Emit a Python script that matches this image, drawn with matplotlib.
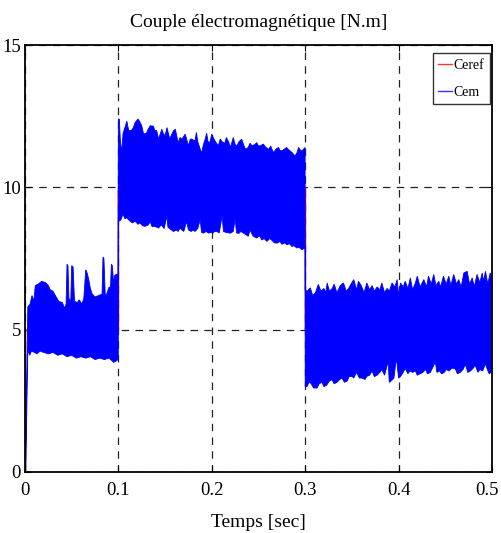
import numpy as np
import matplotlib
matplotlib.use("Agg")
import matplotlib.pyplot as plt
from matplotlib.lines import Line2D
from matplotlib.transforms import ScaledTranslation

# Reference torque (step profile)
ceref_t = [0.0, 0.0, 0.1, 0.1, 0.3, 0.3, 0.5]
ceref = [0.0, 5.0, 5.0, 10.0, 10.0, 5.0, 5.0]

# Electromagnetic torque ripple: upper envelope (time, value)
cem_upper = [
    (0.0003, 0.0), (0.0030, 5.8), (0.0055, 5.9), (0.0075, 6.2), (0.0095, 6.0),
    (0.011, 6.55), (0.014, 6.6), (0.018, 6.7), (0.022, 6.65), (0.025, 6.55),
    (0.027, 6.4), (0.030, 6.35), (0.0325, 6.2), (0.036, 6.0), (0.040, 5.95),
    (0.0425, 5.75), (0.044, 5.9), (0.045, 7.3), (0.046, 7.25), (0.047, 6.1),
    (0.049, 6.0), (0.050, 7.25), (0.0515, 7.2), (0.053, 6.0), (0.056, 5.95),
    (0.058, 6.05), (0.061, 5.9), (0.063, 6.1), (0.065, 7.1), (0.066, 7.05),
    (0.068, 6.8), (0.070, 6.45), (0.072, 6.25), (0.075, 6.15), (0.079, 6.2),
    (0.0825, 6.25), (0.0835, 7.55), (0.0845, 7.5), (0.086, 6.15), (0.088, 6.3),
    (0.090, 6.5), (0.0915, 6.45), (0.0925, 7.3), (0.0935, 7.25), (0.095, 6.6),
    (0.096, 6.9), (0.098, 6.95), (0.0995, 6.9),
    (0.100, 12.4), (0.101, 12.4), (0.102, 11.7), (0.1035, 11.2), (0.105, 11.9),
    (0.107, 12.1), (0.109, 12.33), (0.111, 12.0), (0.114, 12.0), (0.116, 12.1),
    (0.118, 12.28), (0.121, 12.4), (0.123, 12.3), (0.125, 12.16), (0.127, 11.87),
    (0.130, 11.9), (0.132, 12.05), (0.134, 12.16), (0.1375, 12.15), (0.139, 12.0),
    (0.141, 11.99), (0.143, 11.7), (0.1465, 12.04), (0.148, 11.9), (0.150, 11.81),
    (0.152, 12.1), (0.155, 11.7), (0.157, 11.85), (0.159, 11.99), (0.161, 12.04),
    (0.1625, 11.8), (0.164, 11.57), (0.166, 11.75), (0.168, 11.69), (0.1715, 11.87),
    (0.173, 11.7), (0.175, 11.46), (0.177, 11.7), (0.1787, 11.69), (0.182, 11.63),
    (0.1835, 11.93), (0.185, 11.6), (0.1876, 11.34), (0.189, 11.2), (0.191, 11.5),
    (0.193, 11.7), (0.1945, 11.9), (0.196, 11.6), (0.198, 11.58), (0.200, 11.87),
    (0.2015, 11.75), (0.204, 11.6), (0.207, 11.46), (0.209, 11.7), (0.211, 11.6),
    (0.214, 11.55), (0.2155, 11.75), (0.218, 11.6), (0.220, 11.4), (0.223, 11.75),
    (0.225, 11.5), (0.227, 11.46), (0.229, 11.6), (0.232, 11.69), (0.234, 11.5),
    (0.236, 11.34), (0.239, 11.4), (0.241, 11.55), (0.243, 11.46), (0.246, 11.5),
    (0.248, 11.57), (0.250, 11.45), (0.252, 11.46), (0.255, 11.52), (0.258, 11.4),
    (0.261, 11.34), (0.263, 11.45), (0.266, 11.22), (0.269, 11.35), (0.2715, 11.4),
    (0.273, 11.3), (0.275, 11.28), (0.278, 11.35), (0.280, 11.4), (0.283, 11.3),
    (0.286, 11.22), (0.289, 11.1), (0.291, 11.2), (0.293, 11.4), (0.295, 11.3),
    (0.2966, 11.28), (0.2985, 11.35), (0.2999, 11.4),
    (0.300, 6.4), (0.302, 6.35), (0.3055, 6.47), (0.308, 6.2), (0.311, 6.3),
    (0.314, 6.59), (0.317, 6.35), (0.320, 6.45), (0.322, 6.3), (0.3235, 6.64),
    (0.326, 6.35), (0.329, 6.45), (0.331, 6.6), (0.334, 6.3), (0.3376, 6.55),
    (0.341, 6.64), (0.344, 6.35), (0.3465, 6.45), (0.349, 6.6), (0.352, 6.76),
    (0.355, 6.4), (0.357, 6.7), (0.360, 6.55), (0.363, 6.3), (0.366, 6.64),
    (0.369, 6.4), (0.3716, 6.55), (0.374, 6.35), (0.377, 6.5), (0.380, 6.4),
    (0.382, 6.64), (0.385, 6.3), (0.3877, 6.45), (0.390, 6.35), (0.393, 6.64),
    (0.396, 6.5), (0.3984, 6.76), (0.400, 6.2), (0.402, 6.64), (0.405, 6.5),
    (0.407, 6.7), (0.410, 6.45), (0.4126, 6.82), (0.415, 6.4), (0.418, 6.64),
    (0.420, 6.88), (0.423, 6.5), (0.427, 6.76), (0.430, 6.5), (0.432, 6.88),
    (0.435, 6.6), (0.4376, 6.94), (0.440, 6.55), (0.443, 6.7), (0.445, 6.5),
    (0.448, 6.88), (0.451, 6.6), (0.4537, 6.88), (0.456, 6.55), (0.459, 6.94),
    (0.462, 6.6), (0.4644, 6.76), (0.467, 6.5), (0.4698, 6.99), (0.4734, 7.05),
    (0.476, 6.6), (0.4788, 6.82), (0.481, 6.5), (0.484, 6.94), (0.487, 6.65),
    (0.4895, 6.99), (0.491, 6.7), (0.493, 7.05), (0.4955, 6.6), (0.498, 6.99),
    (0.500, 6.9),
]

# Electromagnetic torque ripple: lower envelope (time, value)
cem_lower = [
    (0.0008, 0.0), (0.0030, 4.3), (0.005, 4.1), (0.007, 4.25), (0.010, 4.2),
    (0.013, 4.15), (0.016, 4.25), (0.020, 4.2), (0.025, 4.15), (0.030, 4.2),
    (0.035, 4.1), (0.040, 4.15), (0.045, 4.05), (0.050, 4.1), (0.055, 4.0),
    (0.060, 4.05), (0.065, 4.0), (0.070, 4.05), (0.075, 3.95), (0.080, 4.0),
    (0.085, 3.95), (0.090, 4.0), (0.095, 3.85), (0.0999, 3.95),
    (0.100, 8.8), (0.1025, 8.85), (0.105, 9.05), (0.107, 8.9), (0.109, 8.93),
    (0.1125, 8.81), (0.115, 8.75), (0.118, 8.81), (0.121, 8.7), (0.123, 8.75),
    (0.126, 8.65), (0.1286, 8.63), (0.132, 8.68), (0.134, 8.8), (0.136, 8.62),
    (0.139, 8.63), (0.141, 8.6), (0.143, 8.57), (0.146, 8.68), (0.149, 8.55),
    (0.152, 9.0), (0.153, 8.6), (0.156, 8.52), (0.159, 8.45), (0.162, 8.5),
    (0.164, 8.45), (0.166, 8.57), (0.168, 8.5), (0.170, 8.45), (0.173, 8.8),
    (0.175, 8.5), (0.178, 8.45), (0.180, 8.5), (0.182, 8.45), (0.185, 8.55),
    (0.1876, 8.87), (0.189, 8.42), (0.191, 8.39), (0.194, 8.45), (0.1965, 8.39),
    (0.199, 8.42), (0.201, 8.39), (0.203, 8.45), (0.2055, 8.45), (0.208, 8.4),
    (0.211, 9.0), (0.2125, 8.45), (0.215, 8.42), (0.218, 8.4), (0.220, 8.39),
    (0.223, 8.45), (0.225, 8.9), (0.2265, 8.4), (0.229, 8.38), (0.231, 8.45),
    (0.234, 8.39), (0.236, 8.35), (0.239, 8.28), (0.241, 8.5), (0.244, 8.3),
    (0.246, 8.25), (0.248, 8.22), (0.251, 8.3), (0.2537, 8.15), (0.256, 8.2),
    (0.259, 8.1), (0.262, 8.2), (0.264, 8.15), (0.267, 8.05), (0.270, 8.04),
    (0.273, 8.1), (0.275, 8.0), (0.278, 8.05), (0.2805, 7.98), (0.283, 8.02),
    (0.286, 7.92), (0.288, 7.95), (0.291, 7.87), (0.293, 7.9), (0.2966, 7.81),
    (0.2985, 7.85), (0.2999, 7.9),
    (0.300, 3.0), (0.302, 3.0), (0.304, 3.15), (0.306, 3.12), (0.309, 2.95),
    (0.3127, 2.95), (0.315, 3.1), (0.318, 3.15), (0.320, 3.0), (0.323, 3.05),
    (0.326, 3.2), (0.3287, 3.24), (0.331, 3.1), (0.334, 3.15), (0.337, 3.25),
    (0.3394, 3.3), (0.342, 3.15), (0.345, 3.2), (0.347, 3.35), (0.350, 3.36),
    (0.352, 3.3), (0.355, 3.5), (0.358, 3.3), (0.361, 3.3), (0.364, 3.25),
    (0.366, 3.36), (0.369, 3.4), (0.3716, 3.55), (0.374, 3.35), (0.377, 3.4),
    (0.380, 3.5), (0.382, 3.6), (0.385, 3.4), (0.388, 3.78), (0.389, 3.8),
    (0.390, 3.15), (0.392, 3.2), (0.395, 3.3), (0.397, 3.85), (0.398, 3.9),
    (0.400, 3.3), (0.402, 3.35), (0.405, 3.5), (0.407, 3.64), (0.410, 3.45),
    (0.412, 3.55), (0.415, 3.5), (0.418, 3.55), (0.420, 3.4), (0.423, 3.45),
    (0.426, 3.5), (0.4287, 3.6), (0.431, 3.45), (0.434, 3.5), (0.437, 3.7),
    (0.4394, 3.86), (0.441, 3.5), (0.444, 3.55), (0.446, 3.45), (0.449, 3.5),
    (0.451, 3.6), (0.454, 3.55), (0.457, 3.65), (0.4608, 3.62), (0.463, 3.45),
    (0.466, 3.5), (0.469, 3.6), (0.4716, 3.78), (0.474, 3.5), (0.477, 3.55),
    (0.480, 3.65), (0.482, 3.75), (0.485, 3.5), (0.487, 3.6), (0.490, 3.55),
    (0.493, 3.8), (0.495, 3.6), (0.497, 3.45), (0.499, 3.5), (0.500, 3.55),
]

x_ticks = [0, 0.1, 0.2, 0.3, 0.4, 0.5]
x_labels = ["0", "0.1", "0.2", "0.3", "0.4", "0.5"]
y_ticks = [0, 5, 10, 15]
y_labels = ["0", "5", "10", "15"]

plt.rcParams["font.family"] = ["Liberation Serif", "DejaVu Serif"]

fig = plt.figure(figsize=(5.01, 5.33), dpi=100)
ax = fig.add_axes([25 / 501, 1 - 472 / 533, 467 / 501, 427 / 533])

up = np.array(cem_upper).T
lo = np.array(cem_lower).T

ax.plot(ceref_t, ceref, color="#ff0000", lw=1.0, zorder=2)

# ripple band: upper envelope forward, lower envelope back
poly_t = np.concatenate([up[0], lo[0][::-1]])
poly_v = np.concatenate([up[1], lo[1][::-1]])
ax.fill(poly_t, poly_v, facecolor="#0000ff", edgecolor="#0000ff",
        lw=0.6, zorder=3)

ax.set_xlim(0, 0.5)
ax.set_ylim(0, 15)
ax.set_xticks(x_ticks)
ax.set_xticklabels(x_labels)
ax.set_yticks(y_ticks)
ax.set_yticklabels(y_labels)
ax.tick_params(direction="in", length=4, width=0.8, top=True, right=True,
               labelsize=13.5)
ax.tick_params(axis="x", pad=7)
ax.tick_params(axis="y", pad=3)
ax.grid(True, color="#222222", linestyle=(0, (6, 5)), lw=0.9)
ax.set_axisbelow(True)
for s in ax.spines.values():
    s.set_linewidth(1.3)
    s.set_zorder(5)

# keep the last tick label inside the canvas
last = ax.get_xticklabels()[-1]
last.set_transform(last.get_transform()
                   + ScaledTranslation(-5 / 100, 0, fig.dpi_scale_trans))

ax.set_title("Couple électromagnétique [N.m]", fontsize=14, pad=13)
ax.set_xlabel("Temps [sec]", fontsize=14, labelpad=11)

handles = [Line2D([], [], color="#ff3333", lw=1.0),
           Line2D([], [], color="#3333ff", lw=1.0)]
leg = ax.legend(handles, ["Ceref", "Cem"], loc="upper right",
                bbox_to_anchor=(0.9957, 0.981), fontsize=10,
                frameon=True, fancybox=False, handlelength=1.0,
                handletextpad=0.1, borderpad=0.4, labelspacing=1.0,
                borderaxespad=0.0)
leg.get_frame().set_edgecolor("black")
leg.get_frame().set_linewidth(1.0)

fig.savefig("out.png", dpi=100)
